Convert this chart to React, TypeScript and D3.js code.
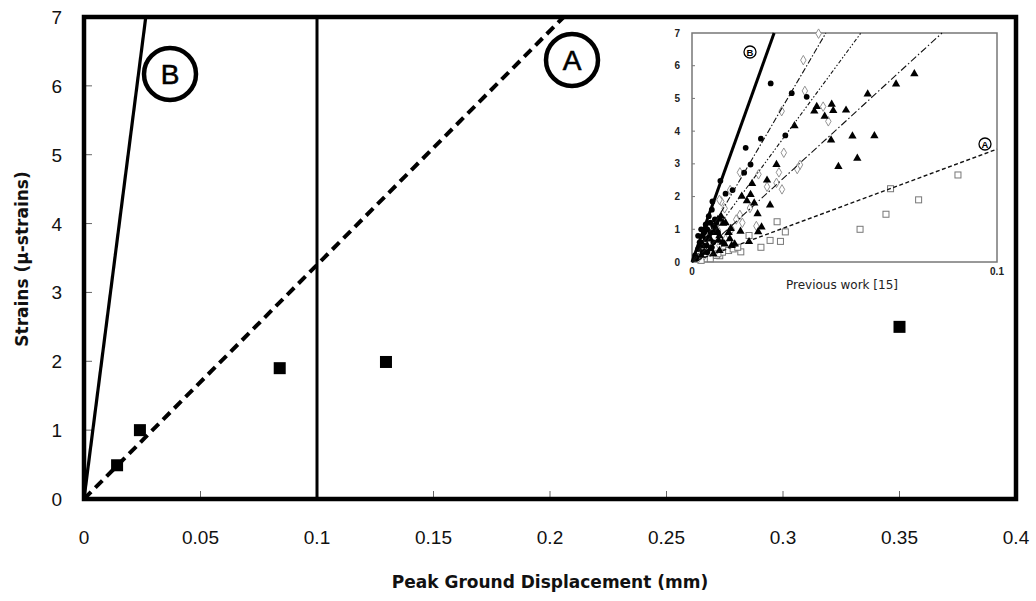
import React from "react";
import * as d3 from "d3";

// ---------- main chart data ----------
const xTicks = [0, 0.05, 0.1, 0.15, 0.2, 0.25, 0.3, 0.35, 0.4];
const yTicks = [0, 1, 2, 3, 4, 5, 6, 7];
const measuredX = [0.0142, 0.024, 0.084, 0.1296, 0.35];
const measuredY = [0.49, 1.0, 1.9, 1.99, 2.5];
const lineBSlope = 264; // line B: strain per mm
const lineASlope = 34; // line A: strain per mm
const verticalLineX = 0.1;

// ---------- inset data (previous work [15]) ----------
const insetXTicks = [0, 0.1];
const insetYTicks = [0, 1, 2, 3, 4, 5, 6, 7];
const insetLineSlopes = { B: 260, d1: 159.5, d2: 126.4, d3: 85.4, A: 34.5 };

const circlesX = [0.0258, 0.0327, 0.0376, 0.0226, 0.0306, 0.0176, 0.0192, 0.0171, 0.0133, 0.011, 0.0067, 0.0093, 0.001, 0.002, 0.003, 0.004, 0.005, 0.003, 0.006, 0.002, 0.004, 0.0015, 0.0045, 0.0035, 0.006, 0.0055, 0.007, 0.0025, 0.008, 0.007, 0.005, 0.0065, 0.0085, 0.0075, 0.0045, 0.0055, 0.0035, 0.0025, 0.0065];
const circlesY = [5.46, 5.16, 5.05, 3.77, 3.87, 3.49, 2.98, 2.73, 2.2, 2.09, 1.85, 2.48, 0.2, 0.4, 0.6, 0.9, 1.0, 1.0, 1.2, 0.8, 0.5, 0.1, 0.7, 0.3, 0.9, 1.4, 1.1, 0.5, 1.2, 0.6, 0.3, 1.6, 0.9, 1.3, 1.15, 0.75, 0.8, 0.6, 0.45];

const diamondsX = [0.0415, 0.0365, 0.0294, 0.037, 0.043, 0.0447, 0.0301, 0.0285, 0.0277, 0.0295, 0.0246, 0.0218, 0.0354, 0.0345, 0.0157, 0.0157, 0.0096, 0.0107, 0.0211, 0.0085, 0.002, 0.004, 0.006, 0.009, 0.011, 0.013, 0.007, 0.009, 0.0125, 0.0145, 0.0165, 0.019];
const diamondsY = [6.98, 6.17, 4.61, 5.23, 4.75, 4.3, 3.34, 2.74, 2.42, 2.22, 2.3, 2.68, 2.97, 2.84, 2.74, 1.44, 1.85, 1.64, 1.1, 0.97, 0.1, 0.2, 0.3, 0.5, 0.7, 1.0, 1.1, 1.9, 2.2, 1.3, 1.2, 1.65];

const trianglesX = [0.0729, 0.0669, 0.0576, 0.0409, 0.0458, 0.0463, 0.0435, 0.0401, 0.0505, 0.0456, 0.0526, 0.0598, 0.0542, 0.048, 0.0336, 0.0277, 0.0246, 0.0256, 0.0197, 0.0163, 0.0192, 0.018, 0.0204, 0.0215, 0.0228, 0.0217, 0.0159, 0.0127, 0.0091, 0.0102, 0.0107, 0.0124, 0.014, 0.0187, 0.0087, 0.004, 0.005, 0.006, 0.007, 0.008, 0.009, 0.010, 0.006, 0.003, 0.0085, 0.0095, 0.011, 0.012, 0.009, 0.013, 0.007];
const trianglesY = [5.75, 5.44, 5.13, 4.75, 4.82, 4.63, 4.45, 4.61, 4.64, 3.73, 3.85, 3.86, 3.17, 2.92, 4.16, 2.98, 2.5, 1.74, 2.4, 2.01, 2.06, 1.87, 1.8, 1.47, 1.07, 0.92, 0.94, 1.02, 1.33, 1.18, 0.55, 0.71, 0.55, 0.62, 0.66, 0.3, 0.5, 0.7, 0.9, 1.0, 0.8, 0.6, 0.4, 0.2, 1.3, 1.4, 1.2, 0.9, 0.35, 0.5, 0.25];

const squaresX = [0.0872, 0.0651, 0.0743, 0.0636, 0.0551, 0.0279, 0.0306, 0.029, 0.0256, 0.0226, 0.0187, 0.016, 0.0091, 0.003, 0.006, 0.008, 0.01, 0.012, 0.0135, 0.015, 0.0085];
const squaresY = [2.66, 2.24, 1.9, 1.46, 1.0, 1.23, 0.92, 0.63, 0.66, 0.45, 0.81, 0.31, 0.19, 0.05, 0.1, 0.2, 0.3, 0.35, 0.4, 0.45, 0.25];

const tickFont = "'Liberation Sans', Arial, sans-serif";
const titleFont = "'DejaVu Sans', sans-serif";

export default function App() {
  const W = 1036, H = 601;
  const x = d3.scaleLinear().domain([0, 0.4]).range([84, 1016]);
  const y = d3.scaleLinear().domain([0, 7]).range([499, 17]);

  const ix = d3.scaleLinear().domain([0, 0.1]).range([692, 997]);
  const iy = d3.scaleLinear().domain([0, 7]).range([262, 33]);

  const line = d3.line<[number, number]>();
  const mainLine = (slope: number) => {
    const xEnd = Math.min(0.4, 7 / slope);
    return line([[x(0), y(0)], [x(xEnd), y(slope * xEnd)]]);
  };
  const insetLine = (slope: number) => {
    const xEnd = Math.min(0.1, 7 / slope);
    return line([[ix(0), iy(0)], [ix(xEnd), iy(slope * xEnd)]]);
  };

  const sq = 12;
  const triPath = d3.symbol().type(d3.symbolTriangle).size(30)();
  const diaPath = d3.symbol().type(d3.symbolDiamond).size(26)();

  return (
    <svg width={W} height={H} style={{ position: "absolute", left: 0, top: 0, background: "#fff" }}>
      {/* main ticks */}
      {yTicks.slice(1, -1).map((t) => (
        <line key={"yt" + t} x1={x(0)} x2={x(0) + 8} y1={y(t)} y2={y(t)} stroke="#666" strokeWidth={1} />
      ))}
      {xTicks.slice(1, -1).map((t) => (
        <line key={"xt" + t} x1={x(t)} x2={x(t)} y1={y(0)} y2={y(0) - 8} stroke="#666" strokeWidth={1} />
      ))}
      {/* tick labels */}
      {yTicks.map((t) => (
        <text key={"yl" + t} x={62} y={y(t) + 7} textAnchor="end" fontFamily={tickFont} fontSize={19} fill="#111">
          {t}
        </text>
      ))}
      {xTicks.map((t) => (
        <text key={"xl" + t} x={x(t)} y={544} textAnchor="middle" fontFamily={tickFont} fontSize={19} fill="#111">
          {d3.format("~g")(t)}
        </text>
      ))}

      {/* lines */}
      <path d={mainLine(lineBSlope) || ""} stroke="#000" strokeWidth={3.2} fill="none" />
      <path d={mainLine(lineASlope) || ""} stroke="#000" strokeWidth={4} strokeDasharray="10,6" fill="none" />
      <line x1={x(verticalLineX)} x2={x(verticalLineX)} y1={y(0)} y2={y(7)} stroke="#000" strokeWidth={3} />

      {/* measured data */}
      {measuredX.map((v, i) => (
        <rect key={"m" + i} x={x(v) - sq / 2} y={y(measuredY[i]) - sq / 2} width={sq} height={sq} fill="#000" />
      ))}

      {/* frame */}
      <rect x={x(0)} y={y(7)} width={x(0.4) - x(0)} height={y(0) - y(7)} fill="none" stroke="#000" strokeWidth={4.5} />

      {/* circled labels */}
      <circle cx={170} cy={74} r={26} fill="#fff" stroke="#000" strokeWidth={4.5} />
      <text x={170} y={84} textAnchor="middle" fontFamily={tickFont} fontSize={28} fill="#000" stroke="#000" strokeWidth={0.6}>B</text>
      <circle cx={572} cy={60} r={26} fill="#fff" stroke="#000" strokeWidth={4.5} />
      <text x={572} y={70} textAnchor="middle" fontFamily={tickFont} fontSize={28} fill="#000" stroke="#000" strokeWidth={0.6}>A</text>

      {/* axis titles */}
      <text x={(x(0) + x(0.4)) / 2} y={588} textAnchor="middle" fontFamily={titleFont} fontWeight="bold" fontSize={17} fill="#111">
        Peak Ground Displacement (mm)
      </text>
      <text transform="translate(28,259) rotate(-90)" textAnchor="middle" fontFamily={titleFont} fontWeight="bold" fontSize={17} fill="#111">
        Strains (μ-strains)
      </text>

      {/* ---------- inset ---------- */}
      <g>
        <rect x={ix(0)} y={iy(7)} width={ix(0.1) - ix(0)} height={iy(0) - iy(7)} fill="#fff" stroke="#777" strokeWidth={1.5} />
        {insetYTicks.slice(1, -1).map((t) => (
          <line key={"iyt" + t} x1={ix(0)} x2={ix(0) + 3} y1={iy(t)} y2={iy(t)} stroke="#777" strokeWidth={1} />
        ))}
        {insetYTicks.map((t) => (
          <text key={"iyl" + t} x={680} y={iy(t) + 3.5} textAnchor="end" fontFamily={tickFont} fontWeight="bold" fontSize={10} fill="#222">
            {t}
          </text>
        ))}
        {insetXTicks.map((t) => (
          <text key={"ixl" + t} x={ix(t)} y={275} textAnchor="middle" fontFamily={tickFont} fontWeight="bold" fontSize={10} fill="#222">
            {t}
          </text>
        ))}
        <text x={842} y={289} textAnchor="middle" fontFamily={titleFont} fontSize={12} fill="#222">
          Previous work [15]
        </text>

        {/* markers */}
        {squaresX.map((v, i) => (
          <rect key={"is" + i} x={ix(v) - 3} y={iy(squaresY[i]) - 3} width={6} height={6} fill="#fff" stroke="#777" strokeWidth={1} />
        ))}
        {diamondsX.map((v, i) => (
          <path key={"id" + i} d={diaPath || ""} transform={`translate(${ix(v)},${iy(diamondsY[i])})`} fill="#fff" stroke="#888" strokeWidth={0.9} />
        ))}
        {trianglesX.map((v, i) => (
          <path key={"it" + i} d={triPath || ""} transform={`translate(${ix(v)},${iy(trianglesY[i])})`} fill="#000" />
        ))}
        {circlesX.map((v, i) => (
          <circle key={"ic" + i} cx={ix(v)} cy={iy(circlesY[i])} r={2.9} fill="#000" />
        ))}

        {/* inset lines */}
        <path d={insetLine(insetLineSlopes.B) || ""} stroke="#000" strokeWidth={3} fill="none" />
        <path d={insetLine(insetLineSlopes.d1) || ""} stroke="#111" strokeWidth={1.1} strokeDasharray="6,2,1.5,2" fill="none" />
        <path d={insetLine(insetLineSlopes.d2) || ""} stroke="#111" strokeWidth={1.1} strokeDasharray="4,2,1.5,2,1.5,2" fill="none" />
        <path d={insetLine(insetLineSlopes.d3) || ""} stroke="#111" strokeWidth={1.1} strokeDasharray="7,2.5,1.5,2.5" fill="none" />
        <path d={insetLine(insetLineSlopes.A) || ""} stroke="#111" strokeWidth={1.4} strokeDasharray="4,2.5" fill="none" />

        {/* circled labels in inset */}
        <circle cx={750} cy={52} r={6} fill="#fff" stroke="#000" strokeWidth={1.3} />
        <text x={750} y={55.5} textAnchor="middle" fontFamily={tickFont} fontWeight="bold" fontSize={9.5} fill="#000">B</text>
        <circle cx={985} cy={144} r={6} fill="#fff" stroke="#000" strokeWidth={1.3} />
        <text x={985} y={147.5} textAnchor="middle" fontFamily={tickFont} fontWeight="bold" fontSize={9.5} fill="#000">A</text>
      </g>
    </svg>
  );
}
